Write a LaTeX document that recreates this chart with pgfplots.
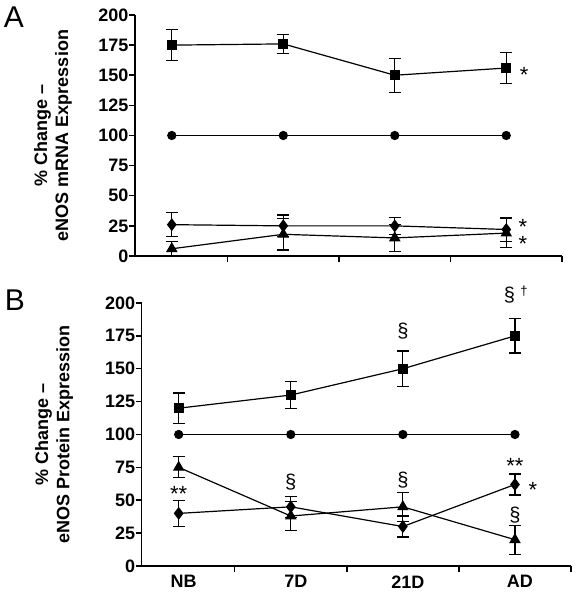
\documentclass[border=0pt]{standalone}
\usepackage{fontspec}
\setmainfont{Liberation Sans}
\usepackage{pgfplots}
\pgfplotsset{compat=1.18}
\newcommand{\fs}[1]{\fontsize{#1}{1.17\dimexpr #1\relax}\selectfont}
\tikzset{ann/.style={font=\fs{20bp}, inner sep=0pt},
         star/.style={font=\fs{22bp}, inner sep=0pt}}
\begin{document}
\begin{tikzpicture}
\path[use as bounding box] (0,0) rectangle (576bp,600bp);
\pgfplotsset{
  common/.style={
    scale only axis, axis x line=bottom, axis y line=left,
    axis line style={-, line width=1.5bp, black},
    xmin=-0.33, xmax=3.5, ymin=0, ymax=200,
    ytick={0,25,...,200},
    xtick={0.5,1.5,2.5,3.5}, xticklabels={},
    tick align=outside, major tick length=6bp,
    every tick/.style={line width=1.5bp, black},
    /pgf/number format/assume math mode=true,
    yticklabel style={font=\fs{18bp}\bfseries, xshift=3bp},
    every axis y label/.style={rotate=90, anchor=center, font=\fs{18bp}\bfseries, align=center},
    clip=false,
  },
  ln/.style={black, line width=1.2bp},
  eb/.style={error bars/.cd, y dir=both, y explicit,
    error bar style={line width=1.2bp, black},
    error mark options={rotate=90, mark size=6bp, line width=1.2bp, black}},
  sq/.style={ln, mark=square*, mark size=4.5bp, mark options={solid, fill=black}},
  ci/.style={ln, mark=*, mark size=4bp, mark options={solid, fill=black}},
  di/.style={ln, mark=diamond*, mark size=5.5bp, mark options={solid, fill=black}},
  tr/.style={ln, mark=triangle*, mark size=5.5bp, mark options={solid, fill=black}},
}
% Panel A
\begin{axis}[common, at={(135bp,344bp)}, anchor=south west, width=427bp, height=241bp,
  ylabel={\% Change --\\eNOS mRNA Expression},
  every axis y label/.append style={at={(rel axis cs:-0.192,0.5)}}]
\addplot[sq, eb] table[x=x, y=y, y error=e] {
x y e
0 175 13
1 176 8
2 150 14
3 156 13
};
\addplot[ci] table[x=x, y=y] {
x y
0 100
1 100
2 100
3 100
};
\addplot[di, eb] table[x=x, y=y, y error=e] {
x y e
0 26 10
1 25 9
2 25 7
3 22 10
};
\addplot[tr, eb] table[x=x, y=y, y error=e] {
x y e
0 6 6
1 18 13
2 15 11
3 19 12
};
\node[star] at (axis cs:3.16,150) {*};
\node[star] at (axis cs:3.15,24) {*};
\node[star] at (axis cs:3.15,10) {*};
\end{axis}
% Panel B
\begin{axis}[common, at={(141.7bp,34bp)}, anchor=south west, width=429.3bp, height=263bp,
  ylabel={\% Change --\\eNOS Protein Expression},
  every axis y label/.append style={at={(rel axis cs:-0.204,0.5)}},
  extra x ticks={0,1,2,3}, extra x tick labels={NB,7D,21D,AD},
  extra x tick style={major tick length=0pt, xticklabel style={font=\fs{18bp}\bfseries, yshift=-6bp, xshift=5bp}}]
\addplot[sq, eb] table[x=x, y=y, y error=e] {
x y e
0 120 11.5
1 130 10.5
2 150 13.5
3 175 13
};
\addplot[ci] table[x=x, y=y] {
x y
0 100
1 100
2 100
3 100
};
\addplot[di, eb] table[x=x, y=y, y error=e] {
x y e
0 40 10
1 45 8
2 30 8
3 62 8
};
\addplot[tr, eb] table[x=x, y=y, y error=e] {
x y e
0 75 8
1 38 11
2 45 11
3 20 11
};
\node[star] at (axis cs:0,55) {**};
\node[ann] at (axis cs:1,64) {\S};
\node[ann] at (axis cs:2,179) {\S};
\node[ann] at (axis cs:2.95,206) {\S};
\node[font=\fs{13bp}] at (axis cs:3.08,209) {\textdagger};
\node[ann] at (axis cs:2,65) {\S};
\node[star] at (axis cs:3,76) {**};
\node[star] at (axis cs:3.16,58) {*};
\node[ann] at (axis cs:3,39) {\S};
\end{axis}
\node[font=\fs{30bp}] at (14bp,583bp) {A};
\node[font=\fs{30bp}] at (15bp,300bp) {B};
\end{tikzpicture}
\end{document}
